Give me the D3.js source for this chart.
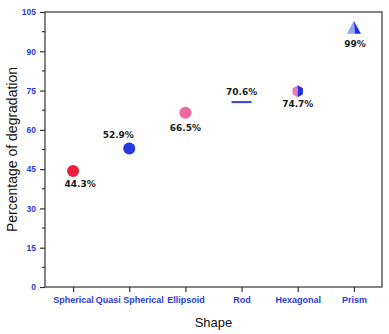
<!DOCTYPE html>
<html>
<head>
<meta charset="utf-8">
<script src="https://cdn.jsdelivr.net/npm/d3@7"></script>
<style>
  body { margin: 0; background: #fff; }
  svg { font-family: "Liberation Sans", Arial, sans-serif; }
</style>
</head>
<body>
<script>
const margin = {top: 12, right: 7, bottom: 47, left: 45}
, width = 389 - margin.left - margin.right
, height = 334 - margin.top - margin.bottom

// data
const shapes = ['Spherical', 'Quasi Spherical', 'Ellipsoid', 'Rod', 'Hexagonal', 'Prism']
const degradation = [44.3, 52.9, 66.5, 70.6, 74.7, 99]
const labels = ['44.3%', '52.9%', '66.5%', '70.6%', '74.7%', '99%']
const yTicks = [0, 15, 30, 45, 60, 75, 90, 105]

const svg = d3.select('body').append('svg')
    .attr('width', 389)
    .attr('height', 334)

const g = svg.append('g')
    .attr('transform', 'translate(' + margin.left + ',' + margin.top + ')')

const xScale = d3.scalePoint()
    .domain(shapes)
    .range([0, width])
    .padding(0.5)

const yScale = d3.scaleLinear()
    .domain([0, 105])
    .range([height, 0])

// frame
g.append('rect')
    .attr('width', width)
    .attr('height', height)
    .attr('fill', 'none')
    .attr('stroke', '#333')
    .attr('stroke-width', 1.2)

// y axis
const yAxis = g.append('g')
    .call(d3.axisLeft(yScale).tickValues(yTicks).tickSize(5).tickPadding(4))
yAxis.select('.domain').remove()
yAxis.selectAll('line').attr('stroke', '#333').attr('stroke-width', 1.2)
yAxis.selectAll('text')
    .attr('fill', '#2a3bd6')
    .style('font-size', '8.5px')
    .style('font-weight', 'bold')

// minor ticks
g.append('g').selectAll('line')
    .data(d3.range(7.5, 105, 15))
    .enter().append('line')
    .attr('x1', -3).attr('x2', 0)
    .attr('y1', d => yScale(d)).attr('y2', d => yScale(d))
    .attr('stroke', '#333')
    .attr('stroke-width', 1.2)

// x axis
const xAxis = g.append('g')
    .attr('transform', 'translate(0,' + height + ')')
    .call(d3.axisBottom(xScale).tickSize(5).tickPadding(5))
xAxis.select('.domain').remove()
xAxis.selectAll('line').attr('stroke', '#333').attr('stroke-width', 1.2)
xAxis.selectAll('text')
    .attr('fill', '#2a3bd6')
    .style('font-size', '9px')
    .style('font-weight', 'bold')

// axis titles
svg.append('text')
    .attr('text-anchor', 'middle')
    .attr('transform', 'translate(17,' + (margin.top + height / 2) + ')rotate(-90)')
    .style('font-size', '14px')
    .attr('fill', '#111')
    .text('Percentage of degradation')

svg.append('text')
    .attr('text-anchor', 'middle')
    .attr('x', margin.left + width / 2)
    .attr('y', 327)
    .style('font-size', '13px')
    .attr('fill', '#111')
    .text('Shape')

// markers
const X = i => xScale(shapes[i])
const Y = i => yScale(degradation[i])

// spheres
const circleColors = ['#e8203c', '#2438e0', '#f2679e']
for (let i = 0; i < 3; i++) {
    g.append('circle')
        .attr('cx', X(i))
        .attr('cy', Y(i))
        .attr('r', 6)
        .attr('fill', circleColors[i])
}

// rod
g.append('line')
    .attr('x1', X(3) - 10).attr('x2', X(3) + 10)
    .attr('y1', Y(3)).attr('y2', Y(3))
    .attr('stroke', '#3344dd')
    .attr('stroke-width', 2)

// hexagon, half pink half blue
const hr = 6
const hex = d3.range(6).map(k => {
    const a = Math.PI / 3 * k + Math.PI / 6
    return [X(4) + hr * Math.cos(a), Y(4) + hr * Math.sin(a)]
})
g.append('path')
    .attr('d', 'M' + X(4) + ',' + (Y(4) - hr) + 'L' + hex[4] + 'L' + hex[3] + 'L' + hex[2] + 'L' + X(4) + ',' + (Y(4) + hr) + 'Z')
    .attr('fill', '#e27cc4')
g.append('path')
    .attr('d', 'M' + X(4) + ',' + (Y(4) - hr) + 'L' + hex[5] + 'L' + hex[0] + 'L' + hex[1] + 'L' + X(4) + ',' + (Y(4) + hr) + 'Z')
    .attr('fill', '#2233d8')

// prism (pyramid)
const px = X(5), py = Y(5)
g.append('path')
    .attr('d', 'M' + px + ',' + (py - 7) + 'L' + (px - 7) + ',' + (py + 6) + 'L' + (px + 1) + ',' + (py + 6) + 'Z')
    .attr('fill', '#8fa6f0')
g.append('path')
    .attr('d', 'M' + px + ',' + (py - 7) + 'L' + (px + 1) + ',' + (py + 6) + 'L' + (px + 7) + ',' + (py + 6) + 'Z')
    .attr('fill', '#2233d8')

// value labels (dx, dy offsets from the point)
const labelOffsets = [[7, 16], [-11, -10], [0, 18], [0, -7], [0, 16], [1, 19]]
g.selectAll('.val')
    .data(labels)
    .enter().append('text')
    .attr('class', 'val')
    .attr('x', (d, i) => X(i) + labelOffsets[i][0])
    .attr('y', (d, i) => Y(i) + labelOffsets[i][1])
    .attr('text-anchor', 'middle')
    .style('font-family', '"DejaVu Sans", sans-serif')
    .style('font-size', '9px')
    .style('font-weight', 'bold')
    .attr('fill', '#1a1a1a')
    .text(d => d)
</script>
</body>
</html>
